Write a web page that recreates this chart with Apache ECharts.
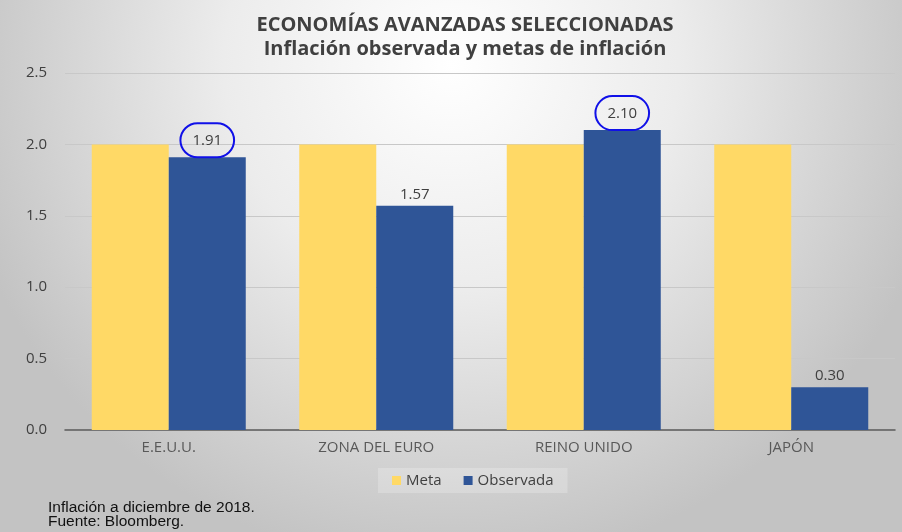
<!DOCTYPE html>
<html>
<head>
<meta charset="utf-8">
<script src="https://cdn.jsdelivr.net/npm/echarts@6/dist/echarts.min.js"></script>
<style>
  html, body { margin: 0; padding: 0; }
  #chart { width: 902px; height: 532px; }
</style>
</head>
<body>
<div id="chart"></div>
<script>
// datos
var paises = ['E.E.U.U.', 'ZONA DEL EURO', 'REINO UNIDO', 'JAPÓN'];
var meta = [2.0, 2.0, 2.0, 2.0];
var observada = [1.91, 1.57, 2.10, 0.30];
var marcados = [0, 2]; // valores con circulo azul
var ejeY = { min: 0, max: 2.5, interval: 0.5 };

var myChart = echarts.init(document.getElementById('chart'));

// etiqueta con circulo para los valores marcados
var datosObs = observada.map(function (v, i) {
    if (marcados.indexOf(i) < 0) return v;
    return {
        value: v,
        label: {
            distance: 0,
            padding: [10, 12, 9, 12],
            borderColor: '#1010e8',
            borderWidth: 2,
            borderRadius: 18
        }
    };
});

var option = {
    backgroundColor: {
        type: 'radial', x: 0.5, y: 0.12, r: 0.95,
        colorStops: [
            { offset: 0, color: '#ffffff' },
            { offset: 0.45, color: '#ececec' },
            { offset: 1, color: '#c3c3c3' }
        ]
    },
    title: [{
        text: 'ECONOMÍAS AVANZADAS SELECCIONADAS\nInflación observada y metas de inflación',
        left: 460,
        top: 8,
        textAlign: 'center',
        textStyle: {
            fontFamily: 'Open Sans',
            fontWeight: 'bold',
            fontSize: 20,
            lineHeight: 24,
            color: '#404040'
        }
    }, {
        text: 'Inflación a diciembre de 2018.\nFuente: Bloomberg.',
        left: 43,
        top: 496,
        textStyle: {
            fontFamily: 'Liberation Sans',
            fontWeight: 'normal',
            fontSize: 15.5,
            lineHeight: 14,
            color: '#111111'
        }
    }],
    legend: {
        data: ['Meta', 'Observada'],
        left: 378,
        top: 468,
        itemWidth: 9,
        itemHeight: 9,
        itemGap: 22,
        padding: [5, 14],
        backgroundColor: 'rgba(255,255,255,0.22)',
        icon: 'rect',
        textStyle: { fontFamily: 'Open Sans', fontSize: 15, color: '#404040' }
    },
    grid: {
        left: 65,
        right: 7,
        top: 73,
        bottom: 102,
        containLabel: false
    },
    xAxis: {
        type: 'category',
        data: paises,
        axisLine: { lineStyle: { color: '#595959', width: 1.5 } },
        axisTick: { show: false },
        axisLabel: {
            margin: 10,
            fontFamily: 'Open Sans',
            fontSize: 15,
            color: '#595959'
        }
    },
    yAxis: {
        type: 'value',
        min: ejeY.min,
        max: ejeY.max,
        interval: ejeY.interval,
        axisLine: { show: false },
        axisTick: { show: false },
        splitLine: { lineStyle: { color: '#c8c8c8' } },
        axisLabel: {
            margin: 18,
            fontFamily: 'Open Sans',
            fontSize: 15,
            color: '#404040',
            formatter: function (v) { return v.toFixed(1); }
        }
    },
    series: [{
        name: 'Meta',
        type: 'bar',
        data: meta,
        barWidth: 77,
        barGap: '0%',
        itemStyle: { color: '#ffd966' }
    }, {
        name: 'Observada',
        type: 'bar',
        data: datosObs,
        barWidth: 77,
        barGap: '0%',
        itemStyle: { color: '#2f5597' },
        label: {
            show: true,
            position: 'top',
            distance: 4,
            fontFamily: 'Open Sans',
            fontSize: 15,
            color: '#404040',
            formatter: function (p) { return p.value.toFixed(2); }
        }
    }]
};

myChart.setOption(option);
</script>
</body>
</html>
